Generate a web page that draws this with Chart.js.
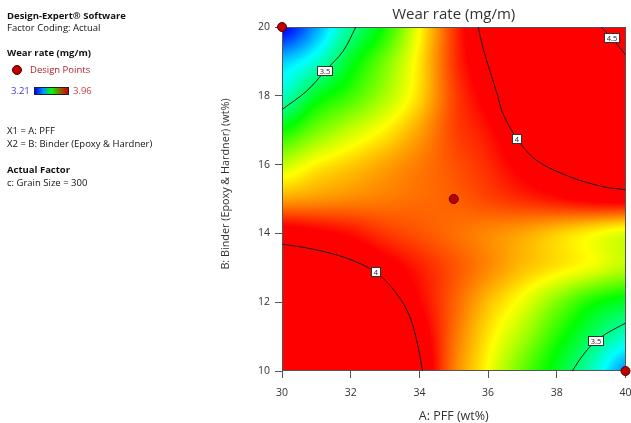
<!DOCTYPE html>
<html>
<head>
<meta charset="utf-8">
<script src="https://cdn.jsdelivr.net/npm/chart.js@4.4.1/dist/chart.umd.min.js"></script>
<style>
    html, body { margin: 0; padding: 0; background: #fff; }
    #wrap { position: relative; width: 631px; height: 423px; font-family: "Open Sans", sans-serif; }
    #chart { position: absolute; left: 0; top: 0; }
    .t { position: absolute; left: 7px; font-size: 9.5px; line-height: 14px; color: #111; white-space: nowrap; }
    .b { font-weight: bold; }
    .dot { position: absolute; left: 12px; top: 65px; width: 8px; height: 8px; border-radius: 50%; background: #c00000; border: 1px solid #4a0000; }
    .bar { position: absolute; left: 34px; top: 87px; width: 33px; height: 6px; border: 1px solid #222;
           background: linear-gradient(to right, #0000ff, #0090ff 25%, #00ff00 50%, #a05000 80%, #d00000); }
</style>
</head>
<body>
<div id="wrap">
    <canvas id="chart" width="631" height="423"></canvas>
    <div class="t b" style="top:9px">Design-Expert® Software</div>
    <div class="t" style="top:21px">Factor Coding: Actual</div>
    <div class="t b" style="top:46px">Wear rate (mg/m)</div>
    <div class="dot"></div>
    <div class="t" style="top:63px; left:30px; color:#b0202c">Design Points</div>
    <div class="t" style="top:84px; left:11px; color:#3a3ad0">3.21</div>
    <div class="bar"></div>
    <div class="t" style="top:84px; left:73px; color:#d03a3a">3.96</div>
    <div class="t" style="top:124px">X1 = A: PFF</div>
    <div class="t" style="top:137px">X2 = B: Binder (Epoxy &amp; Hardner)</div>
    <div class="t b" style="top:163px">Actual Factor</div>
    <div class="t" style="top:176px">c: Grain Size = 300</div>
</div>
<script>
// grid nodes (A: PFF along x, B: Binder along y)
const xValues = [30, 31, 32, 33, 34, 35, 36, 37, 38, 39, 40];
const yValues = [10, 11, 12, 13, 14, 15, 16, 17, 18, 19, 20];

// wear rate, one row per y value (10 -> 20)
const wearGrid = [
    [4.15, 4.13, 4.10, 4.06, 4.01, 3.87, 3.77, 3.66, 3.56, 3.45, 3.32],
    [4.12, 4.10, 4.08, 4.05, 3.99, 3.88, 3.79, 3.71, 3.61, 3.52, 3.44],
    [4.08, 4.06, 4.05, 4.02, 3.96, 3.89, 3.82, 3.76, 3.68, 3.60, 3.56],
    [4.03, 4.025, 4.01, 3.98, 3.94, 3.90, 3.86, 3.82, 3.79, 3.76, 3.72],
    [3.985, 3.97, 3.95, 3.92, 3.90, 3.88, 3.86, 3.84, 3.81, 3.78, 3.75],
    [3.84, 3.85, 3.86, 3.87, 3.88, 3.89, 3.91, 3.93, 3.95, 3.97, 3.98],
    [3.73, 3.78, 3.81, 3.84, 3.87, 3.90, 3.93, 3.975, 4.01, 4.03, 4.06],
    [3.59, 3.67, 3.73, 3.78, 3.84, 3.91, 3.95, 4.015, 4.08, 4.14, 4.20],
    [3.44, 3.56, 3.63, 3.71, 3.80, 3.91, 3.98, 4.08, 4.18, 4.28, 4.38],
    [3.36, 3.43, 3.56, 3.67, 3.79, 3.92, 4.01, 4.12, 4.24, 4.36, 4.48],
    [3.20, 3.33, 3.48, 3.60, 3.77, 3.92, 4.04, 4.18, 4.32, 4.46, 4.60]
];

const colorMin = 3.21;
const colorMax = 3.96;

const designPoints = [{x: 30, y: 20}, {x: 35, y: 15}, {x: 40, y: 10}];

// contour lines
const contour4Upper = [{x: 35.71, y: 20}, {x: 35.85, y: 19.4}, {x: 36.05, y: 18.73}, {x: 36.25, y: 18.1},
    {x: 36.43, y: 17.49}, {x: 36.85, y: 16.74}, {x: 37.4, y: 16.13}, {x: 38.37, y: 15.65},
    {x: 39.34, y: 15.36}, {x: 40, y: 15.27}];
const contour4Lower = [{x: 30, y: 13.69}, {x: 30.91, y: 13.54}, {x: 31.88, y: 13.28}, {x: 32.73, y: 12.87},
    {x: 33.33, y: 12.26}, {x: 33.72, y: 11.58}, {x: 33.96, y: 10.71}, {x: 34.09, y: 10}];
const contour35Upper = [{x: 32.15, y: 20}, {x: 31.78, y: 19.3}, {x: 31.25, y: 18.72}, {x: 30.72, y: 18.14}, {x: 30, y: 17.6}];
const contour35Lower = [{x: 38.45, y: 10}, {x: 38.76, y: 10.46}, {x: 39.13, y: 10.87}, {x: 39.53, y: 11.14}, {x: 40, y: 11.39}];
const contour45 = [{x: 39.29, y: 20}, {x: 39.61, y: 19.67}, {x: 40, y: 19.19}];

const contourLabels = [
    {x: 31.25, y: 18.72, text: "3.5"},
    {x: 36.85, y: 16.74, text: "4"},
    {x: 39.61, y: 19.67, text: "4.5"},
    {x: 32.73, y: 12.87, text: "4"},
    {x: 39.13, y: 10.87, text: "3.5"}
];

const xTicks = [30, 32, 34, 36, 38, 40];
const yTicks = [10, 12, 14, 16, 18, 20];

const FONT = "'Open Sans', sans-serif";

function catmull(p0, p1, p2, p3, t) {
    return p1 + 0.5 * t * (p2 - p0 + t * (2 * p0 - 5 * p1 + 4 * p2 - p3 + t * (3 * (p1 - p2) + p3 - p0)));
}

function node(i, j) {
    i = Math.max(0, Math.min(xValues.length - 1, i));
    j = Math.max(0, Math.min(yValues.length - 1, j));
    return wearGrid[j][i];
}

function sampleGrid(xv, yv) {
    const gx = (xv - xValues[0]) / (xValues[1] - xValues[0]);
    const gy = (yv - yValues[0]) / (yValues[1] - yValues[0]);
    const i = Math.max(0, Math.min(xValues.length - 2, Math.floor(gx)));
    const j = Math.max(0, Math.min(yValues.length - 2, Math.floor(gy)));
    const tx = gx - i, ty = gy - j;
    const rows = [];
    for (let m = -1; m <= 2; m++) {
        rows.push(catmull(node(i - 1, j + m), node(i, j + m), node(i + 1, j + m), node(i + 2, j + m), tx));
    }
    return catmull(rows[0], rows[1], rows[2], rows[3], ty);
}

function surfaceColor(v) {
    const stops = [[0, 0, 255], [0, 255, 255], [0, 255, 0], [255, 255, 0], [255, 0, 0]];
    let t = (v - colorMin) / (colorMax - colorMin);
    t = Math.max(0, Math.min(1, t));
    const s = t * 4;
    const k = Math.min(3, Math.floor(s));
    const f = s - k;
    return stops[k].map((c, n) => Math.round(c + (stops[k + 1][n] - c) * f));
}

const surfacePlugin = {
    id: "surface",
    beforeDatasetsDraw(chart) {
        const {ctx, chartArea: a, scales: {x, y}} = chart;
        const w = Math.round(a.right - a.left);
        const h = Math.round(a.bottom - a.top);
        const off = document.createElement("canvas");
        off.width = w;
        off.height = h;
        const octx = off.getContext("2d");
        const img = octx.createImageData(w, h);
        for (let j = 0; j < h; j++) {
            const yv = y.getValueForPixel(a.top + j + 0.5);
            for (let i = 0; i < w; i++) {
                const xv = x.getValueForPixel(a.left + i + 0.5);
                const c = surfaceColor(sampleGrid(xv, yv));
                const p = (j * w + i) * 4;
                img.data[p] = c[0];
                img.data[p + 1] = c[1];
                img.data[p + 2] = c[2];
                img.data[p + 3] = 255;
            }
        }
        octx.putImageData(img, 0, 0);
        ctx.drawImage(off, a.left, a.top, w, h);
        // frame
        ctx.save();
        ctx.strokeStyle = "#555";
        ctx.lineWidth = 1;
        ctx.strokeRect(Math.round(a.left) + 0.5, Math.round(a.top) + 0.5, w - 1, h - 1);
        ctx.restore();
    },
    afterDatasetsDraw(chart) {
        const {ctx, scales: {x, y}} = chart;
        ctx.save();
        ctx.font = "7.5px " + FONT;
        ctx.textAlign = "center";
        ctx.textBaseline = "middle";
        contourLabels.forEach(l => {
            const px = Math.round(x.getPixelForValue(l.x));
            const py = Math.round(y.getPixelForValue(l.y));
            const bw = Math.ceil(ctx.measureText(l.text).width) + 5;
            const bh = 10;
            ctx.fillStyle = "#fff";
            ctx.fillRect(px - bw / 2, py - bh / 2, bw, bh);
            ctx.strokeStyle = "#333";
            ctx.lineWidth = 1;
            ctx.strokeRect(Math.round(px - bw / 2) + 0.5, py - bh / 2 + 0.5, bw - 1, bh - 1);
            ctx.fillStyle = "#222";
            ctx.fillText(l.text, px, py + 0.5);
        });
        ctx.restore();
    },
    afterDraw(chart) {
        const ctx = chart.ctx;
        ctx.save();
        ctx.translate(226, 184);
        ctx.rotate(-Math.PI / 2);
        ctx.font = "10.8px " + FONT;
        ctx.fillStyle = "#333";
        ctx.textAlign = "center";
        ctx.textBaseline = "middle";
        ctx.fillText("B: Binder (Epoxy & Hardner) (wt%)", 0, 0);
        ctx.restore();
    }
};

function contourSet(points) {
    return {
        data: points,
        showLine: true,
        pointRadius: 0,
        borderColor: "#1c1c1c",
        borderWidth: 1,
        tension: 0.35,
        fill: false
    };
}

document.addEventListener("DOMContentLoaded", function () {
    const ctx = document.getElementById("chart").getContext("2d");

    new Chart(ctx, {
        type: "scatter",
        data: {
            datasets: [{
                data: designPoints,
                pointRadius: 4.5,
                backgroundColor: "#c00000",
                borderColor: "#4a0000",
                borderWidth: 1,
                clip: false
            },
            contourSet(contour4Upper),
            contourSet(contour4Lower),
            contourSet(contour35Upper),
            contourSet(contour35Lower),
            contourSet(contour45)]
        },
        options: {
            responsive: false,
            animation: false,
            layout: {padding: {left: 200, right: 5, top: 0, bottom: 0}},
            plugins: {
                legend: {display: false},
                tooltip: {enabled: false},
                title: {
                    display: true,
                    text: "Wear rate (mg/m)",
                    fullSize: false,
                    color: "#333",
                    font: {family: FONT, size: 15, weight: "normal"},
                    padding: {top: 6, bottom: 3}
                }
            },
            scales: {
                x: {
                    type: "linear",
                    min: 30,
                    max: 40,
                    afterBuildTicks: s => { s.ticks = xTicks.map(v => ({value: v})); },
                    afterFit: s => { s.height = 52; s.paddingLeft = 0; s.paddingRight = 0; },
                    grid: {drawOnChartArea: false, drawTicks: true, tickLength: 7, color: "#555"},
                    border: {display: false},
                    ticks: {color: "#333", font: {family: FONT, size: 10.5}, padding: 9},
                    title: {display: true, text: "A: PFF (wt%)", color: "#333",
                        font: {family: FONT, size: 12.5, lineHeight: 1}, padding: {top: 0, bottom: 0}}
                },
                y: {
                    type: "linear",
                    min: 10,
                    max: 20,
                    afterBuildTicks: s => { s.ticks = yTicks.map(v => ({value: v})); },
                    afterFit: s => { s.width = 82; },
                    grid: {drawOnChartArea: false, drawTicks: true, tickLength: 7, color: "#555"},
                    border: {display: false},
                    ticks: {color: "#333", font: {family: FONT, size: 10.5}, padding: 5}
                }
            }
        },
        plugins: [surfacePlugin]
    });
});
</script>
</body>
</html>
